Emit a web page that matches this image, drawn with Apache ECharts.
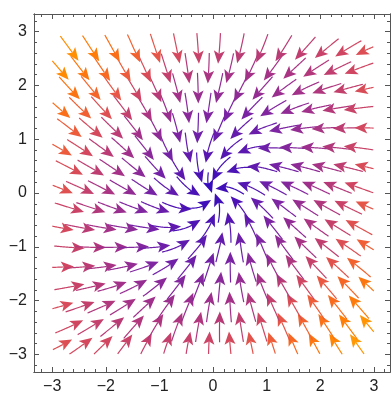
<!DOCTYPE html>
<html><head><meta charset="utf-8">
<script src="https://cdn.jsdelivr.net/npm/echarts@6/dist/echarts.min.js"></script>
<style>html,body{margin:0;padding:0;background:#fff}#c{width:391px;height:394px}</style>
</head><body><div id="c"></div>
<script>
// Vector field samples on a 7x7 grid
const gridX = [-3, -2, -1, 0, 1, 2, 3];
const gridY = [-3, -2, -1, 0, 1, 2, 3];
// U[j][i], V[j][i] = field components at (gridX[i], gridY[j])
const U = [
  [2.8, 2.0, 0.9, 0.0, -0.9, -2.0, -3.0],
  [3.0, 2.2, 1.4, 0.3, -1.0, -2.0, -3.0],
  [3.0, 2.2, 1.2, 0.4, -0.7, -2.0, -3.0],
  [3.0, 2.0, 1.0, 0.0, -1.0, -2.0, -3.0],
  [3.0, 2.0, 0.7, -0.4, -1.2, -2.2, -3.0],
  [3.0, 2.0, 1.0, -0.3, -1.4, -2.2, -3.0],
  [3.0, 2.0, 0.9, 0.0, -0.9, -2.0, -2.8]
];
const V = [
  [1.4, 2.3, 2.7, 3.0, 3.3, 3.7, 4.0],
  [0.7, 0.8, 1.5, 2.0, 2.3, 2.7, 3.1],
  [-0.3, 0.0, 0.1, 1.0, 1.5, 1.6, 1.8],
  [-1.08, -1.0, -0.6, 0.0, 0.6, 1.0, 1.08],
  [-1.8, -1.6, -1.5, -1.0, -0.1, 0.0, 0.3],
  [-3.1, -2.7, -2.3, -2.0, -1.5, -0.8, -0.7],
  [-4.0, -3.7, -3.3, -3.0, -2.7, -2.3, -1.4]
];
const majorTicks = [-3, -2, -1, 0, 1, 2, 3];
const minorTicks = [-3.2,-2.8,-2.6,-2.4,-2.2,-1.8,-1.6,-1.4,-1.2,-0.8,-0.6,-0.4,-0.2,0.2,0.4,0.6,0.8,1.2,1.4,1.6,1.8,2.2,2.4,2.6,2.8,3.2];
// colour scale (magnitude fraction -> rgb)
const colorStops = [
  [0.00, [48, 10, 190]],
  [0.15, [80, 20, 180]],
  [0.30, [120, 35, 165]],
  [0.45, [165, 50, 135]],
  [0.58, [208, 70, 98]],
  [0.65, [234, 88, 66]],
  [0.74, [248, 106, 32]],
  [0.85, [255, 128, 4]],
  [1.00, [255, 172, 0]]
];

function field(x, y) {
  const fx = Math.min(Math.max((x + 3), 0), 5.9999), fy = Math.min(Math.max((y + 3), 0), 5.9999);
  const i = Math.floor(fx), j = Math.floor(fy), tx = fx - i, ty = fy - j;
  const b = (A) => A[j][i] * (1 - tx) * (1 - ty) + A[j][i + 1] * tx * (1 - ty) + A[j + 1][i] * (1 - tx) * ty + A[j + 1][i + 1] * tx * ty;
  return [b(U), b(V)];
}
let maxMag = 0;
for (let j = 0; j < 7; j++) for (let i = 0; i < 7; i++) maxMag = Math.max(maxMag, Math.hypot(U[j][i], V[j][i]));

function colorAt(t) {
  t = Math.max(0, Math.min(1, t));
  for (let k = 1; k < colorStops.length; k++) {
    if (t <= colorStops[k][0]) {
      const a = colorStops[k - 1], b = colorStops[k];
      const u = (t - a[0]) / (b[0] - a[0]);
      const c = a[1].map((v, m) => Math.round(v + (b[1][m] - v) * u));
      return 'rgb(' + c.join(',') + ')';
    }
  }
  return 'rgb(255,172,0)';
}

function trace(x0, y0, dir, len) {
  const pts = [];
  let x = x0, y = y0, s = 0;
  const h = 0.015;
  while (s < len) {
    const f1 = field(x, y); const m1 = Math.hypot(f1[0], f1[1]);
    if (m1 < 0.03) break;
    const xm = x + dir * h / 2 * f1[0] / m1, ym = y + dir * h / 2 * f1[1] / m1;
    const f2 = field(xm, ym); const m2 = Math.hypot(f2[0], f2[1]);
    if (m2 < 0.03) break;
    const nx = x + dir * h * f2[0] / m2, ny = y + dir * h * f2[1] / m2;
    if (nx < -3 || nx > 3 || ny < -3 || ny > 3) break;
    x = nx; y = ny; s += h;
    pts.push([x, y]);
  }
  return pts;
}

const streams = [];
const SX = 0.40, SY = 0.37;
for (let j = 0; ; j++) {
  const y = -3 + 0.14 + j * SY;
  if (y > 3) break;
  for (let i = 0; ; i++) {
    const x = -3 + 0.12 + i * SX + (j % 2) * SX / 2;
    if (x > 3) break;
    const back = trace(x, y, -1, 0.28).reverse();
    const fwd = trace(x, y, 1, 0.28);
    const pts = back.concat([[x, y]], fwd);
    if (pts.length < 4) continue;
    const f = field(x, y);
    streams.push({ pts, color: colorAt(Math.hypot(f[0], f[1]) / maxMag), seed: [x, y] });
  }
}

const HL = 13, HW = 5.5, NOTCH = 3;
function d(a, b) { return Math.hypot(a[0] - b[0], a[1] - b[1]); }

const chart = echarts.init(document.getElementById('c'), null, { renderer: 'canvas' });
const frame = '#555';
const fmt = (v) => (v < 0 ? '\u2212' + Math.abs(v) : String(v));
const axisCommon = (dim, pos, major, labels) => ({
  type: 'value', min: dim === 'x' ? -3.34 : -3.33, max: dim === 'x' ? 3.30 : 3.33, position: pos,
  axisLine: { show: true, onZero: false, lineStyle: { color: frame, width: 1 } },
  axisTick: { show: true, inside: true, length: major ? 5 : 3, customValues: major ? majorTicks : minorTicks, lineStyle: { color: frame, width: 1 } },
  axisLabel: labels ? { show: true, customValues: majorTicks, formatter: fmt, color: '#222', fontSize: 16, fontFamily: 'Liberation Sans, Arial, sans-serif', margin: 7 } : { show: false },
  splitLine: { show: false }
});

chart.setOption({
  animation: false,
  grid: { left: 34, top: 14, right: 1, bottom: 22, containLabel: false, outerBoundsMode: 'none' },
  xAxis: [axisCommon('x', 'bottom', true, true), axisCommon('x', 'bottom', false, false), axisCommon('x', 'top', true, false), axisCommon('x', 'top', false, false)],
  yAxis: [axisCommon('y', 'left', true, true), axisCommon('y', 'left', false, false), axisCommon('y', 'right', true, false), axisCommon('y', 'right', false, false)],
  series: [{
    type: 'custom', xAxisIndex: 0, yAxisIndex: 0, clip: true,
    data: streams.map(s => s.seed),
    renderItem: function (params, api) {
      const s = streams[params.dataIndex];
      const pts = s.pts.map(p => api.coord(p));
      const n = pts.length, tip = pts[n - 1];
      let k = n - 2;
      while (k > 0 && d(tip, pts[k]) < HL) k--;
      let dx = tip[0] - pts[k][0], dy = tip[1] - pts[k][1];
      const L = Math.hypot(dx, dy) || 1; dx /= L; dy /= L;
      const bx = tip[0] - dx * HL, by = tip[1] - dy * HL, px = -dy, py = dx;
      const notch = [bx + dx * NOTCH, by + dy * NOTCH];
      const head = [tip, [bx + px * HW, by + py * HW], notch, [bx - px * HW, by - py * HW]];
      const line = [];
      for (let m = 0; m < n; m++) { if (d(pts[m], tip) > HL - NOTCH) line.push(pts[m]); else break; }
      line.push(notch);
      return { type: 'group', children: [
        { type: 'polyline', shape: { points: line }, style: { stroke: s.color, lineWidth: 1.2, fill: null } },
        { type: 'polygon', shape: { points: head }, style: { fill: s.color } }
      ] };
    }
  }]
});
</script></body></html>
